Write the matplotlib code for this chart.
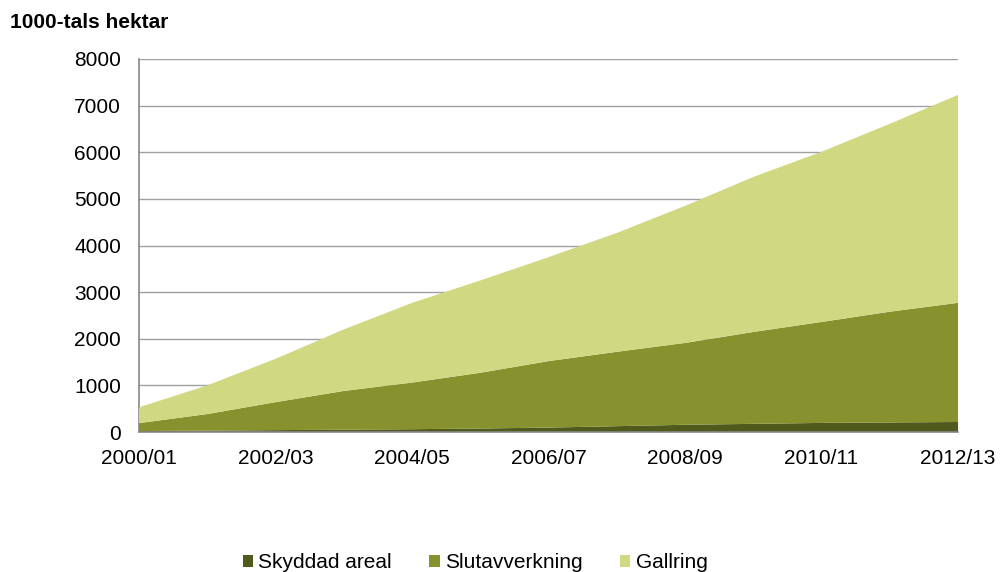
import matplotlib
matplotlib.use("Agg")
import matplotlib.pyplot as plt
import numpy as np

plt.rcParams['font.family'] = ['Liberation Sans', 'DejaVu Sans']

years = ["2000/01", "2001/02", "2002/03", "2003/04", "2004/05", "2005/06", "2006/07",
         "2007/08", "2008/09", "2009/10", "2010/11", "2011/12", "2012/13"]
skyddad = [20, 30, 40, 50, 60, 75, 95, 125, 155, 175, 195, 205, 215]
slutavverkning = [170, 355, 600, 830, 1000, 1195, 1425, 1595, 1755, 1970, 2165, 2375, 2555]
gallring = [340, 615, 930, 1320, 1710, 1980, 2230, 2550, 2940, 3325, 3650, 4030, 4460]
series_names = ["Skyddad areal", "Slutavverkning", "Gallring"]
colors = ["#4f5a1c", "#87912d", "#d0d982"]

fig = plt.figure(figsize=(10, 5.72), dpi=100)
ax = fig.add_axes([0.139, 1 - 432/572, 0.958 - 0.139, (432 - 59)/572])

x = np.arange(len(years))
ax.stackplot(x, skyddad, slutavverkning, gallring, colors=colors, labels=series_names,
             linewidth=0, zorder=3)

ax.set_xlim(0, len(years) - 1)
ax.set_ylim(0, 8000)
ax.set_yticks(range(0, 8001, 1000))
ax.set_xticks(x[::2])
ax.set_xticklabels(years[::2])
ax.grid(axis='y', color='#a0a0a0', linewidth=1.0, zorder=0)
for s in ['top', 'right']:
    ax.spines[s].set_visible(False)
for s in ['left', 'bottom']:
    ax.spines[s].set_color('#888888')
    ax.spines[s].set_linewidth(1.2)
ax.spines['bottom'].set_zorder(4)
ax.tick_params(axis='both', labelsize=15, length=0)
ax.tick_params(axis='y', pad=13)
ax.tick_params(axis='x', pad=12)

fig.text(0.01, 1 - 22/572, "1000-tals hektar", fontsize=15, fontweight='bold',
         va='center', ha='left')

fig.legend(loc='center', bbox_to_anchor=(0.475, 1 - 563/572), ncol=3, frameon=False,
           fontsize=15, handlelength=0.5, handleheight=0.5, handletextpad=0.25,
           columnspacing=1.8, borderpad=0, borderaxespad=0)

fig.savefig("out.png", dpi=100)
